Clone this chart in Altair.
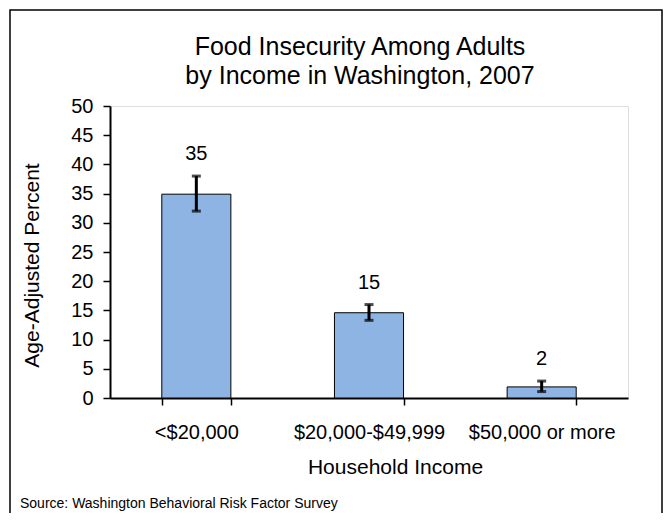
import altair as alt
import pandas as pd

categories = ["<$20,000", "$20,000-$49,999", "$50,000 or more"]
values = [34.9, 14.6, 1.9]
lower = [32.0, 13.3, 1.1]
upper = [38.0, 16.0, 2.9]
labels = ["35", "15", "2"]
y_ticks = [0, 5, 10, 15, 20, 25, 30, 35, 40, 45, 50]
title_lines = ["Food Insecurity Among Adults", "by Income in Washington, 2007"]
source_text = "Source: Washington Behavioral Risk Factor Survey"

df = pd.DataFrame({"cat": categories, "val": values, "lo": lower, "hi": upper, "lab": labels})
one = pd.DataFrame({"k": [0]})

FONT = "Liberation Sans"

x_axis = alt.Axis(labelAngle=0, labelFontSize=20, labelFont=FONT, labelColor="black",
                  labelPadding=17, tickSize=7, tickColor="black", tickWidth=1.5,
                  tickBand="extent", domainColor="black", domainWidth=2,
                  titleFontSize=21, titleFont=FONT, titleFontWeight="normal", titleColor="black",
                  titleX=285, titleY=75, titleAlign="center", titleBaseline="alphabetic")
x_scale = alt.Scale(paddingInner=0.6, paddingOuter=0.3)

y_axis = alt.Axis(values=y_ticks, grid=False, labelFontSize=20, labelFont=FONT,
                  labelColor="black", labelPadding=10, tickSize=7, tickColor="black",
                  labelOverlap=False, labelFlush=False,
                  tickWidth=1.5, domainColor="black", domainWidth=2,
                  titleFontSize=21, titleFont=FONT, titleFontWeight="normal", titleColor="black",
                  titleX=-78, titleY=159, titleAngle=-90, titleAlign="center",
                  titleBaseline="middle")
y_scale = alt.Scale(domain=[0, 50], nice=False)


def X():
    return alt.X("cat:N", sort=categories, title="Household Income", scale=x_scale, axis=x_axis)


def Y(field):
    return alt.Y(field, scale=y_scale, title="Age-Adjusted Percent", axis=y_axis)


bars = alt.Chart(df).mark_bar(color="#8DB4E2", stroke="black", strokeWidth=1).encode(
    x=X(), y=Y("val:Q"))

rules = alt.Chart(df).mark_rule(color="black", strokeWidth=3).encode(
    x=X(), y=Y("lo:Q"), y2="hi:Q")

cap_hi = alt.Chart(df).mark_tick(color="black", thickness=3, size=9, orient="horizontal").encode(
    x=X(), y=Y("hi:Q"))
cap_lo = alt.Chart(df).mark_tick(color="black", thickness=3, size=9, orient="horizontal").encode(
    x=X(), y=Y("lo:Q"))

text = alt.Chart(df).mark_text(fontSize=20, font=FONT, color="black", baseline="alphabetic", dy=-16).encode(
    x=X(), y=Y("hi:Q"), text="lab:N")

title1 = alt.Chart(one).mark_text(fontSize=25, font=FONT, color="black", align="center",
                                  baseline="alphabetic").encode(
    x=alt.value(250), y=alt.value(-51), text=alt.datum(title_lines[0]))
title2 = alt.Chart(one).mark_text(fontSize=25, font=FONT, color="black", align="center",
                                  baseline="alphabetic").encode(
    x=alt.value(250), y=alt.value(-22), text=alt.datum(title_lines[1]))

source = alt.Chart(one).mark_text(fontSize=14, font=FONT, color="black", align="left",
                                  baseline="alphabetic").encode(
    x=alt.value(-90), y=alt.value(402), text=alt.datum(source_text))

border = alt.Chart(one).mark_rect(fill=None, stroke="black", strokeWidth=1.5).encode(
    x=alt.value(-100), x2=alt.value(552), y=alt.value(-96), y2=alt.value(430))

chart = alt.layer(bars, rules, cap_hi, cap_lo, text, title1, title2, source, border).properties(
    width=518, height=292,
    autosize=alt.AutoSizeParams(type="none"),
    padding={"left": 102, "top": 98, "right": 35, "bottom": 115},
).configure_view(stroke=None).configure(background="white")

chart.save("out.html", embed_options={"renderer": "svg", "actions": False})
